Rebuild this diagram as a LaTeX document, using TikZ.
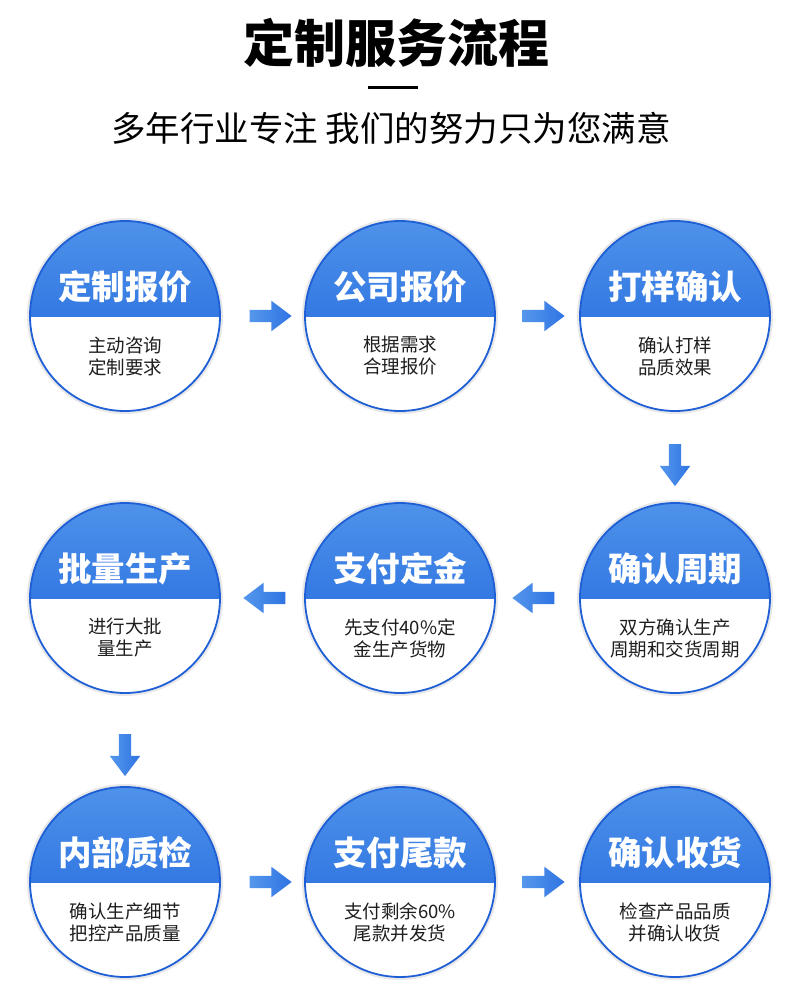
\documentclass[tikz,border=0pt]{standalone}
\usepackage{fontspec}
\setmainfont{Noto Sans CJK SC}
\usetikzlibrary{shapes.arrows,calc}
\definecolor{bluetop}{HTML}{4E92EA}
\definecolor{bluebot}{HTML}{1A60DA}
\definecolor{ringblue}{HTML}{1F5FD6}
\definecolor{arrowlight}{HTML}{5597EC}
\definecolor{arrowdark}{HTML}{2F74E3}
\definecolor{bodytext}{HTML}{1E1E1E}
\begin{document}
\begin{tikzpicture}[x=1pt,y=1pt,
  stepcircle/.style={circle, minimum size=190pt, inner sep=0pt, fill=white,
    draw=ringblue, line width=1.8pt,
    preaction={draw=black!9, line width=6pt},
    path picture={\shade[top color=bluetop, bottom color=bluebot]
      (path picture bounding box.north west) rectangle (path picture bounding box.east);}},
  steptitle/.style={text=white, font=\bfseries\fontsize{33.5}{36}\selectfont, inner sep=0pt},
  stepbody/.style={text=bodytext, font=\fontsize{18.5}{22}\selectfont, align=center, inner sep=0pt},
  blockarrow/.style={single arrow, draw=none, minimum height=42pt,
    single arrow head extend=9pt, single arrow tip angle=74,
    inner xsep=0pt, inner ysep=6pt, text height=0pt, text depth=0pt, text width=0pt,
    left color=arrowlight, right color=arrowdark},
]
\useasboundingbox (0,0) rectangle (800,-1000);
\fill[white] (0,0) rectangle (800,-1000);

% heading
\node[font=\bfseries\fontsize{51}{54}\selectfont, inner sep=0pt] (title) at (396,-43) {定制服务流程};
\coordinate (ruleL) at (368,-88);
\coordinate (ruleR) at (418,-88);
\draw[line width=3pt, black] (ruleL) -- (ruleR);
\node[font=\fontsize{34.5}{38}\selectfont, inner sep=0pt] (subtitle) at (391,-128) {多年行业专注 我们的努力只为您满意};

% circles
\foreach \name/\cx/\cy/\t/\ba/\bb in {
  s1/125/316/定制报价/主动咨询/定制要求,
  s2/400/316/公司报价/根据需求/合理报价,
  s3/675/316/打样确认/确认打样/品质效果,
  s4/675/598/确认周期/双方确认生产/周期和交货周期,
  s5/400/598/支付定金/先支付40\%定/金生产货物,
  s6/125/598/批量生产/进行大批/量生产,
  s7/125/882/内部质检/确认生产细节/把控产品质量,
  s8/400/882/支付尾款/支付剩余60\%/尾款并发货,
  s9/675/882/确认收货/检查产品品质/并确认收货}{
  \node[stepcircle] (\name) at (\cx,-\cy) {};
  \node[steptitle] (\name-t) at ([yshift=29pt]\name.center) {\t};
  \node[stepbody] (\name-b) at ([yshift=-40pt]\name.center) {\ba\\\bb};
}

% arrows
\node[blockarrow] (a12) at ($(s1)!0.5!(s2)+(4,0)$) {};
\node[blockarrow] (a23) at ($(s2)!0.5!(s3)+(2,0)$) {};
\node[blockarrow, rotate=-90] (a34) at ($(s3)!0.5!(s4)+(0,-4)$) {};
\node[blockarrow, rotate=180] (a45) at ($(s4)!0.5!(s5)+(0,0)$) {};
\node[blockarrow, rotate=180] (a56) at ($(s5)!0.5!(s6)+(6,0)$) {};
\node[blockarrow, rotate=-90] (a67) at ($(s6)!0.5!(s7)+(0,-11)$) {};
\node[blockarrow] (a78) at ($(s7)!0.5!(s8)+(4,0)$) {};
\node[blockarrow] (a89) at ($(s8)!0.5!(s9)+(2,0)$) {};
\end{tikzpicture}
\end{document}
